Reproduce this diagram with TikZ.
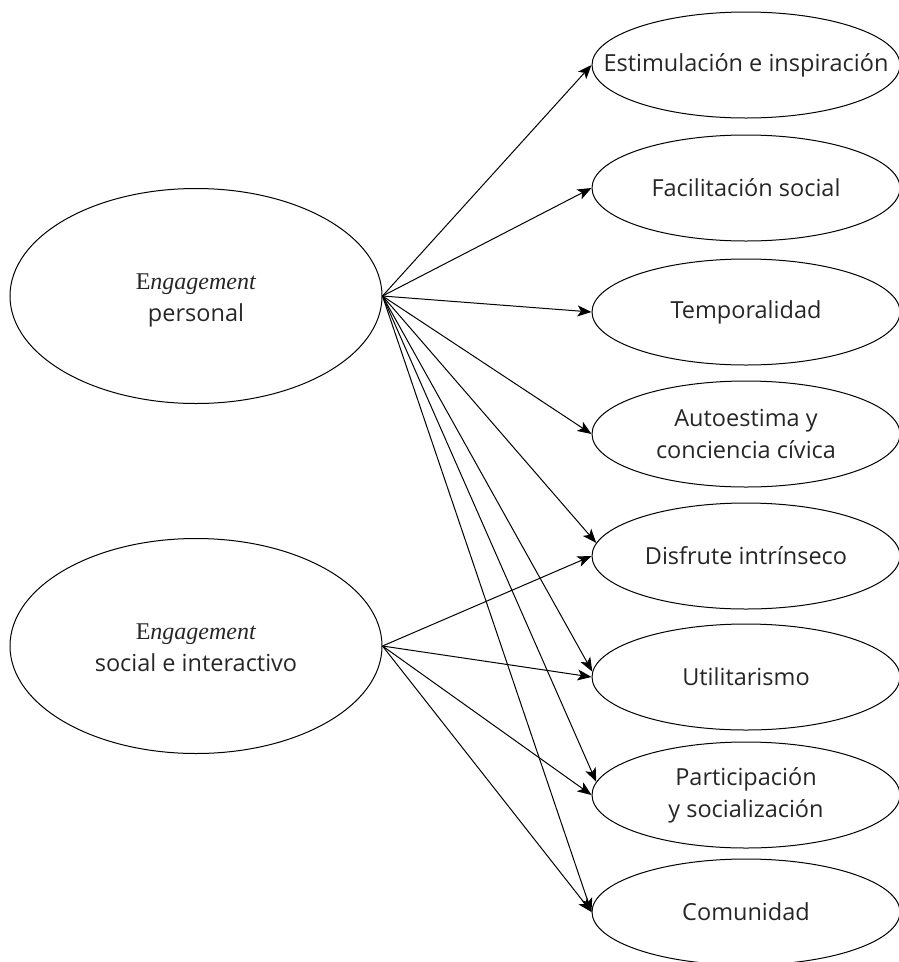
\documentclass[tikz,border=0pt]{standalone}
\usepackage{fontspec}
\setmainfont{Open Sans}
\newfontfamily\engfont{Liberation Serif}
\usetikzlibrary{shapes.geometric,arrows.meta}
\begin{document}
\begin{tikzpicture}[x=1pt,y=1pt,
  lell/.style={draw, ellipse, line width=1pt, minimum width=372pt, minimum height=215pt, inner sep=0pt},
  rell/.style={draw, ellipse, line width=1pt, minimum width=308pt, minimum height=106pt, inner sep=0pt},
  txt/.style={align=center, font=\fontsize{23.5}{32}\selectfont, text=black!85, inner sep=0pt},
  arr/.style={-{Stealth[length=14pt,width=11pt,inset=3.5pt]}, line width=1pt}]
\useasboundingbox (0,0) rectangle (899,-962);
% left ellipses
\node[lell] (p) at (196,-296) {};
\node[txt] (pt) at (196,-300) {{\engfont\fontsize{24}{32}\selectfont E\textit{ngagement}}\\personal};
\node[lell] (s) at (196,-646) {};
\node[txt] (st) at (196,-648) {{\engfont\fontsize{24}{32}\selectfont E\textit{ngagement}}\\social e interactivo};
% right ellipses
\node[rell] (r1) at (746,-65) {};
\node[txt] (t1) at (r1) {Estimulación e inspiración};
\node[rell] (r2) at (746,-188) {};
\node[txt] (t2) at (r2) {Facilitación social};
\node[rell] (r3) at (746,-312) {};
\node[txt] (t3) at (r3) {Temporalidad};
\node[rell] (r4) at (746,-434) {};
\node[txt] (t4) at (r4) {Autoestima y\\conciencia cívica};
\node[rell] (r5) at (746,-556) {};
\node[txt] (t5) at (r5) {Disfrute intrínseco};
\node[rell] (r6) at (746,-677) {};
\node[txt] (t6) at (r6) {Utilitarismo};
\node[rell] (r7) at (746,-795) {};
\node[txt] (t7) at (r7) {Participación\\y socialización};
\node[rell] (r8) at (746,-912) {};
\node[txt] (t8) at (r8) {Comunidad};
% arrows from personal
\draw[arr] (p.east) -- (r1.west);
\draw[arr] (p.east) -- (r2.west);
\draw[arr] (p.east) -- (r3.west);
\draw[arr] (p.east) -- (r4.west);
\draw[arr] (p.east) -- (r5.175);
\draw[arr] (p.east) -- (r6.178);
\draw[arr] (p.east) -- (r7.175);
\draw[arr] (p.east) -- (r8.west);
% arrows from social
\draw[arr] (s.east) -- (r5.west);
\draw[arr] (s.east) -- (r6.west);
\draw[arr] (s.east) -- (r7.west);
\draw[arr] (s.east) -- (r8.west);
\end{tikzpicture}
\end{document}
